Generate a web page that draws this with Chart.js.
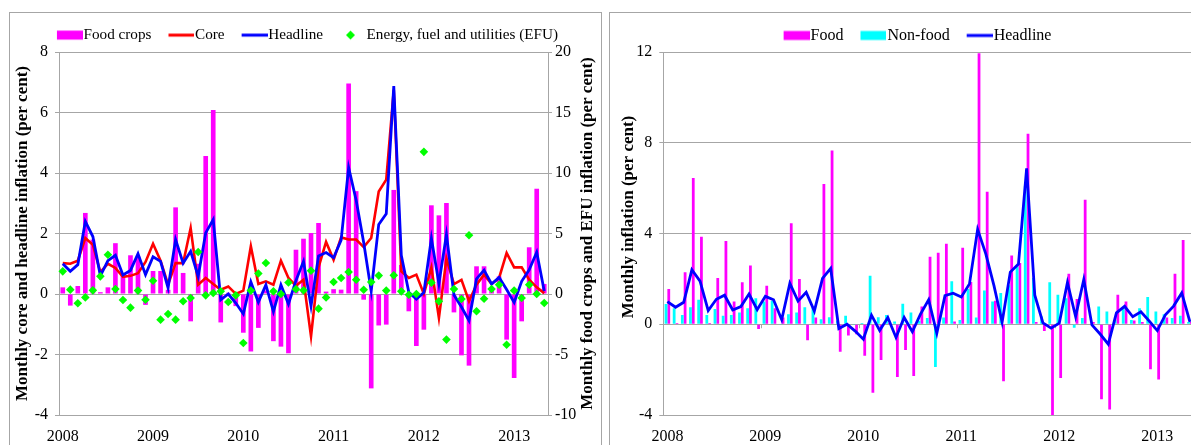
<!DOCTYPE html>
<html><head><meta charset="utf-8">
<script src="https://cdn.jsdelivr.net/npm/chart.js@4.4.1/dist/chart.umd.min.js"></script>
<style>
html,body{margin:0;padding:0;background:#fff;overflow:hidden;width:1191px;height:445px;}
#wrap{position:relative;width:1191px;height:445px;overflow:hidden;background:#fff;}
.panel{position:absolute;border:1px solid #a6a6a6;box-sizing:border-box;}
#p1{left:9px;top:12px;width:593px;height:460px;}
#p2{left:609px;top:12px;width:640px;height:460px;}
.cw{position:absolute;top:0;}
</style></head><body>
<div id="wrap">
<div class="panel" id="p1"></div><div class="panel" id="p2"></div>
<div class="cw" style="left:0;width:600px;height:445px"><canvas id="c1" width="600" height="445"></canvas></div>
<div class="cw" style="left:600px;width:620px;height:445px"><canvas id="c2" width="620" height="445"></canvas></div>
</div>
<script>
// ---------- data ----------
const months = ['2008-01','2008-02','2008-03','2008-04','2008-05','2008-06','2008-07','2008-08','2008-09','2008-10','2008-11','2008-12',
'2009-01','2009-02','2009-03','2009-04','2009-05','2009-06','2009-07','2009-08','2009-09','2009-10','2009-11','2009-12',
'2010-01','2010-02','2010-03','2010-04','2010-05','2010-06','2010-07','2010-08','2010-09','2010-10','2010-11','2010-12',
'2011-01','2011-02','2011-03','2011-04','2011-05','2011-06','2011-07','2011-08','2011-09','2011-10','2011-11','2011-12',
'2012-01','2012-02','2012-03','2012-04','2012-05','2012-06','2012-07','2012-08','2012-09','2012-10','2012-11','2012-12',
'2013-01','2013-02','2013-03','2013-04','2013-05'];
const yearLabels = ['2008','2009','2010','2011','2012','2013'];

const headline = [1.0,0.75,0.97,2.4,1.9,0.6,1.1,1.28,0.63,0.78,
 1.33,0.64,1.23,1.08,0.2,1.8,1.02,1.41,0.58,2.02,
 2.46,-0.19,0.0,-0.3,-0.66,0.4,-0.27,0.3,-0.58,0.3,
 -0.33,0.45,1.08,-0.4,1.26,1.37,1.2,1.78,4.18,3.1,
 1.7,0.09,2.3,2.65,6.87,1.28,0.06,-0.17,0.05,1.84,
 0.34,1.97,-0.03,-0.43,-0.88,0.5,0.79,0.33,0.55,0.15,
 -0.28,0.42,0.8,1.38,0.1];
const core = [1.02,1.0,1.1,1.85,1.63,0.72,1.0,0.86,0.57,0.6,
 0.69,1.06,1.66,1.1,0.31,1.02,1.02,2.18,0.31,0.53,
 0.33,0.14,0.25,0.0,0.11,1.58,0.33,0.42,0.31,1.1,
 0.53,0.27,0.47,-1.4,0.88,1.72,1.13,1.87,1.8,1.8,
 1.55,1.85,3.39,3.78,6.75,0.75,0.53,0.64,0.0,0.88,
 -0.79,1.17,0.33,0.47,-0.24,0.31,0.64,0.33,0.53,1.36,
 0.88,0.88,0.47,0.22,0.03];
const foodCrops = [0.55,-0.96,0.66,6.7,4.5,0.15,0.55,4.2,1.6,3.2,
 3.1,-0.9,1.9,1.9,0.35,7.16,1.74,-2.26,2.5,11.4,
 15.2,-2.35,0.1,-1.0,-3.2,-4.75,-2.8,0.3,-3.9,-4.35,
 -4.9,3.66,4.57,5.04,5.87,0.2,0.4,0.36,17.4,8.5,
 -0.47,-7.8,-2.6,-2.53,8.6,2.4,-1.43,-4.3,-2.95,7.33,
 6.5,7.52,-1.52,-5.07,-5.92,2.29,2.29,0.3,1.46,-3.77,
 -6.94,-2.26,3.86,8.7,0.83];
const efu = [1.87,0.36,-0.77,-0.28,0.3,1.46,3.25,0.41,-0.5,-1.13,
 0.28,-0.47,1.1,-2.12,-1.65,-2.12,-0.6,-0.33,3.47,-0.11,
 0.08,0.22,-0.66,-0.11,-4.05,0.28,1.7,2.56,0.22,0.0,
 0.95,0.4,0.3,1.93,-1.21,-0.28,0.99,1.32,1.82,1.18,
 0.35,0.99,1.52,0.28,1.54,0.22,-0.06,0.0,11.75,0.94,
 -0.6,-3.77,0.41,-0.41,4.85,-1.43,-0.39,0.41,0.77,-4.19,
 0.28,-0.33,0.77,0.0,-0.74];
const food = [1.55,0.05,2.29,6.45,3.86,0.05,2.04,3.67,1.0,1.85,
 2.59,-0.21,1.7,0.71,0.3,4.45,2.0,-0.71,0.3,6.18,
 7.66,-1.21,-0.5,-0.44,-1.39,-3.02,-1.58,0.05,-2.32,-1.14,
 -2.28,0.78,2.97,3.15,3.55,0.12,3.37,1.86,11.95,5.84,
 1.04,-2.51,3.03,2.7,8.4,0.1,-0.3,-4.0,-2.37,2.23,
 1.11,5.49,0.1,-3.31,-3.76,1.3,1.0,0.16,0.1,-1.98,
 -2.44,0.3,2.23,3.71,0.1];
const nonFood = [0.89,0.71,0.41,0.75,1.08,0.41,0.67,0.37,0.41,0.52,
 0.71,1.15,1.0,1.04,-0.03,0.44,0.52,0.75,0.75,0.22,
 0.31,0.15,0.37,-0.03,0.05,2.14,0.31,0.41,0.12,0.9,
 0.52,0.15,0.27,-1.88,0.3,1.89,0.19,1.55,0.3,1.49,
 1.0,1.38,1.72,2.55,6.1,2.04,0.34,1.85,1.3,1.15,
 -0.15,0.27,0.0,0.78,0.56,0.19,0.7,0.19,0.71,1.2,
 0.56,0.44,0.27,0.37,0.1];

// ---------- styling ----------
const FONT = "'Liberation Serif', 'Times New Roman', serif";
const GRID = '#a6a6a6';
const MAGENTA = '#ff00ff', CYAN = '#00ffff', RED = '#ff0000', BLUE = '#0000ff', GREEN = '#00ff00';
Chart.defaults.font.family = FONT;
Chart.defaults.font.size = 16;
Chart.defaults.color = '#000';
Chart.defaults.animation = false;

function sym(kind, color) {
  const c = document.createElement('canvas');
  c.width = 40; c.height = 12;
  const g = c.getContext('2d');
  g.fillStyle = color;
  if (kind === 'rect') g.fillRect(14, 1.5, 26, 9);
  else if (kind === 'line') g.fillRect(14, 4.5, 26, 3);
  else { g.beginPath(); g.moveTo(24.5, 1.5); g.lineTo(29, 6); g.lineTo(24.5, 10.5); g.lineTo(20, 6); g.closePath(); g.fill(); }
  return c;
}
const syms1 = [sym('rect', MAGENTA), sym('line', RED), sym('line', BLUE), sym('diamond', GREEN)];
const syms2 = [sym('rect', MAGENTA), sym('rect', CYAN), sym('line', BLUE)];

function legendH(h) {
  return { id: 'legendH', beforeInit(chart) {
    const f = chart.legend.fit;
    chart.legend.fit = function () { f.call(this); this.height = h; };
  } };
}
const vTitles = {
  id: 'vTitles',
  afterDraw(chart, args, opts) {
    const ctx = chart.ctx, ca = chart.chartArea;
    (opts.items || []).forEach(t => {
      ctx.save();
      ctx.translate(t.x, t.y != null ? t.y : (ca.top + ca.bottom) / 2);
      ctx.rotate(-Math.PI / 2);
      ctx.font = opts.font;
      ctx.fillStyle = '#000';
      ctx.textAlign = 'center';
      ctx.textBaseline = 'middle';
      ctx.fillText(t.text, 0, 0);
      ctx.restore();
    });
  }
};
const yearTicks = {
  id: 'yearTicks',
  beforeDatasetsDraw(chart, args, opts) {
    if (!opts.on) return;
    const xs = chart.scales.x, ys = chart.scales.y, ctx = chart.ctx;
    const y0 = ys.getPixelForValue(0);
    const half = (xs.getPixelForValue(1) - xs.getPixelForValue(0)) / 2;
    ctx.save(); ctx.strokeStyle = GRID; ctx.lineWidth = 1;
    for (let i = 12; i < months.length; i += 12) {
      const px = Math.round(xs.getPixelForValue(i) - half) + 0.5;
      ctx.beginPath(); ctx.moveTo(px, y0); ctx.lineTo(px, y0 + 4); ctx.stroke();
    }
    ctx.restore();
  }
};
function legendOpts(syms, size) {
  return {
    display: true, position: 'top', align: 'center',
    labels: {
      usePointStyle: true, pointStyleWidth: 26, boxHeight: 10, padding: 10, color: '#000',
      font: { size: size, family: FONT },
      generateLabels(chart) {
        const items = Chart.defaults.plugins.legend.labels.generateLabels(chart);
        items.forEach(it => { it.pointStyle = syms[it.datasetIndex]; it.rotation = 0; });
        return items;
      },
      sort: (a, b) => a.datasetIndex - b.datasetIndex
    }
  };
}
const xAxis = {
  type: 'category', offset: true,
  grid: { display: false, drawTicks: false }, border: { display: false },
  ticks: { autoSkip: false, maxRotation: 0, minRotation: 0, padding: 12, font: { size: 16 },
    callback: (v, i) => (i % 12 === 0 ? yearLabels[i / 12] : '') },
  afterFit(s) { s.height = 30; }
};

// ---------- left chart ----------
new Chart(document.getElementById('c1'), {
  type: 'bar',
  data: {
    labels: months,
    datasets: [
      { type: 'bar', label: 'Food crops', data: foodCrops, yAxisID: 'y2', backgroundColor: MAGENTA,
        barPercentage: 0.62, categoryPercentage: 1, order: 4 },
      { type: 'line', label: 'Core', data: core, yAxisID: 'y', borderColor: RED, backgroundColor: RED,
        borderWidth: 2.6, pointRadius: 0, tension: 0, order: 3 },
      { type: 'line', label: 'Headline', data: headline, yAxisID: 'y', borderColor: BLUE, backgroundColor: BLUE,
        borderWidth: 2.8, pointRadius: 0, tension: 0, order: 2 },
      { type: 'line', label: 'Energy, fuel and utilities (EFU)', data: efu, yAxisID: 'y2', showLine: false,
        pointStyle: 'rectRot', pointRadius: 4.3, pointBackgroundColor: GREEN, pointBorderColor: GREEN,
        pointBorderWidth: 0, backgroundColor: GREEN, borderColor: GREEN, order: 1 }
    ]
  },
  options: {
    responsive: false, animation: false,
    layout: { padding: { left: 10, right: 2, top: 17.5, bottom: 0 } },
    scales: {
      x: xAxis,
      y: { position: 'left', min: -4, max: 8,
        ticks: { stepSize: 2, padding: 7, font: { size: 16 } },
        grid: { color: GRID, tickLength: 4, drawTicks: true },
        border: { display: true, color: GRID },
        afterFit(s) { s.width = 49; } },
      y2: { position: 'right', min: -10, max: 20,
        ticks: { stepSize: 5, padding: 3, font: { size: 16 } },
        grid: { drawOnChartArea: false, color: GRID, tickLength: 4 },
        border: { display: true, color: GRID },
        afterFit(s) { s.width = 50; } }
    },
    plugins: {
      legend: legendOpts(syms1, 15.2),
      tooltip: { enabled: false },
      vTitles: { font: 'bold 17px ' + FONT, items: [
        { text: 'Monthly core and headline inflation (per cent)', x: 22.5 },
        { text: 'Monthly food crops and EFU inflation (per cent)', x: 588 }
      ] },
      yearTicks: { on: false }
    }
  },
  plugins: [legendH(34.5), vTitles]
});

// ---------- right chart ----------
new Chart(document.getElementById('c2'), {
  type: 'bar',
  data: {
    labels: months,
    datasets: [
      { type: 'bar', label: 'Food', data: food, yAxisID: 'y', backgroundColor: MAGENTA,
        barPercentage: 1, categoryPercentage: 0.68, order: 3 },
      { type: 'bar', label: 'Non-food', data: nonFood, yAxisID: 'y', backgroundColor: CYAN,
        barPercentage: 1, categoryPercentage: 0.68, order: 2 },
      { type: 'line', label: 'Headline', data: headline, yAxisID: 'y', borderColor: BLUE, backgroundColor: BLUE,
        borderWidth: 2.8, pointRadius: 0, tension: 0, order: 1 }
    ]
  },
  options: {
    responsive: false, animation: false,
    layout: { padding: { left: 10, right: 2, top: 17.5, bottom: 0 } },
    scales: {
      x: xAxis,
      y: { position: 'left', min: -4, max: 12,
        ticks: { stepSize: 4, padding: 7, font: { size: 16 } },
        grid: { color: GRID, tickLength: 4, drawTicks: true },
        border: { display: true, color: GRID },
        afterFit(s) { s.width = 53.3; } },
      yR: { type: 'linear', position: 'right', display: true,
        grid: { display: false, drawTicks: false }, border: { display: false },
        ticks: { display: false },
        afterFit(s) { s.width = 24; } }
    },
    plugins: {
      legend: legendOpts(syms2, 16),
      tooltip: { enabled: false },
      vTitles: { font: 'bold 17px ' + FONT, items: [
        { text: 'Monthly inflation (per cent)', x: 28.7, y: 217 }
      ] },
      yearTicks: { on: true }
    }
  },
  plugins: [legendH(34.5), vTitles, yearTicks]
});
</script>
</body></html>
